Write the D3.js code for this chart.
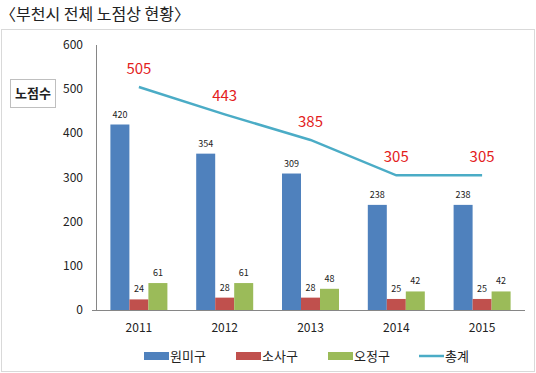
<!DOCTYPE html>
<html>
<head>
<meta charset="utf-8">
<script src="https://cdn.jsdelivr.net/npm/d3@7"></script>
<style>
body { margin: 0; background: #fff; }
text { font-family: "Noto Sans CJK KR", "Noto Sans", sans-serif; }
</style>
</head>
<body>
<script>
var years = ["2011", "2012", "2013", "2014", "2015"];
var wonmi = [420, 354, 309, 238, 238];
var sosa = [24, 28, 28, 25, 25];
var ojeong = [61, 61, 48, 42, 42];
var total = [505, 443, 385, 305, 305];
var seriesNames = ["원미구", "소사구", "오정구"];
var yTicks = [0, 100, 200, 300, 400, 500, 600];

var colors = ["#4f81bd", "#c0504d", "#9bbb59"];
var lineColor = "#4bacc6";

var svg = d3.select("body").append("svg")
    .attr("width", 536)
    .attr("height", 373);

// title
svg.append("text")
    .attr("x", 0)
    .attr("y", 20)
    .style("font-size", "16px")
    .attr("fill", "#222")
    .text("〈부천시 전체 노점상 현황〉");

// frame
svg.append("rect")
    .attr("x", 1.5)
    .attr("y", 29.5)
    .attr("width", 533)
    .attr("height", 342)
    .attr("fill", "none")
    .attr("stroke", "#d9d9d9");

var x = d3.scaleBand()
    .domain(years)
    .range([96, 525]);

var y = d3.scaleLinear()
    .domain([0, 600])
    .range([310, 45]);

var groupWidth = 57;
var x1 = d3.scaleBand()
    .domain([0, 1, 2])
    .range([0, groupWidth]);

// y axis labels
svg.append("g")
    .selectAll("text")
    .data(yTicks)
    .enter()
    .append("text")
    .attr("x", 83)
    .attr("y", function (d) { return y(d) + 4; })
    .attr("text-anchor", "end")
    .style("font-size", "12px")
    .attr("fill", "#222")
    .text(function (d) { return d; });

// axis lines
svg.append("line")
    .attr("x1", 96.5).attr("x2", 96.5)
    .attr("y1", y(600)).attr("y2", y(0))
    .attr("stroke", "#868686");
svg.append("line")
    .attr("x1", 92).attr("x2", 525)
    .attr("y1", y(0) + 0.5).attr("y2", y(0) + 0.5)
    .attr("stroke", "#868686");

// x labels
svg.append("g")
    .selectAll("text")
    .data(years)
    .enter()
    .append("text")
    .attr("x", function (d) { return x(d) + x.bandwidth() / 2; })
    .attr("y", 332)
    .attr("text-anchor", "middle")
    .style("font-size", "12px")
    .attr("fill", "#222")
    .text(function (d) { return d; });

// bars
var series = [wonmi, sosa, ojeong];
series.forEach(function (vals, s) {
    var g = svg.append("g");
    g.selectAll("rect")
        .data(vals)
        .enter()
        .append("rect")
        .attr("x", function (d, i) { return x(years[i]) + (x.bandwidth() - groupWidth) / 2 + x1(s); })
        .attr("y", function (d) { return y(d); })
        .attr("width", x1.bandwidth())
        .attr("height", function (d) { return y(0) - y(d); })
        .attr("fill", colors[s]);
    g.selectAll("text")
        .data(vals)
        .enter()
        .append("text")
        .attr("x", function (d, i) { return x(years[i]) + (x.bandwidth() - groupWidth) / 2 + x1(s) + x1.bandwidth() / 2; })
        .attr("y", function (d) { return y(d) - 7; })
        .attr("text-anchor", "middle")
        .style("font-size", "9px")
        .attr("fill", "#222")
        .text(function (d) { return d; });
});

// total line
var line = d3.line()
    .x(function (d, i) { return x(years[i]) + x.bandwidth() / 2; })
    .y(function (d) { return y(d); });

svg.append("path")
    .datum(total)
    .attr("d", line)
    .attr("fill", "none")
    .attr("stroke", lineColor)
    .attr("stroke-width", 2.5);

svg.append("g")
    .selectAll("text")
    .data(total)
    .enter()
    .append("text")
    .attr("x", function (d, i) { return x(years[i]) + x.bandwidth() / 2; })
    .attr("y", function (d) { return y(d) - 13; })
    .attr("text-anchor", "middle")
    .style("font-size", "15px")
    .attr("fill", "#e3211c")
    .text(function (d) { return d; });

// y axis title box
svg.append("rect")
    .attr("x", 10.5).attr("y", 79.5)
    .attr("width", 45).attr("height", 28)
    .attr("fill", "#fff")
    .attr("stroke", "#bfbfbf");
svg.append("text")
    .attr("x", 33)
    .attr("y", 98)
    .attr("text-anchor", "middle")
    .style("font-size", "13px")
    .style("font-weight", "bold")
    .attr("fill", "#222")
    .text("노점수");

// legend
var legendX = [144, 236, 328];
seriesNames.forEach(function (name, s) {
    svg.append("rect")
        .attr("x", legendX[s]).attr("y", 352)
        .attr("width", 25).attr("height", 8)
        .attr("fill", colors[s]);
    svg.append("text")
        .attr("x", legendX[s] + 26).attr("y", 361)
        .style("font-size", "13px")
        .attr("fill", "#222")
        .text(name);
});
svg.append("line")
    .attr("x1", 419).attr("x2", 444)
    .attr("y1", 356).attr("y2", 356)
    .attr("stroke", lineColor)
    .attr("stroke-width", 2.5);
svg.append("text")
    .attr("x", 445).attr("y", 361)
    .style("font-size", "13px")
    .attr("fill", "#222")
    .text("총계");
</script>
</body>
</html>
